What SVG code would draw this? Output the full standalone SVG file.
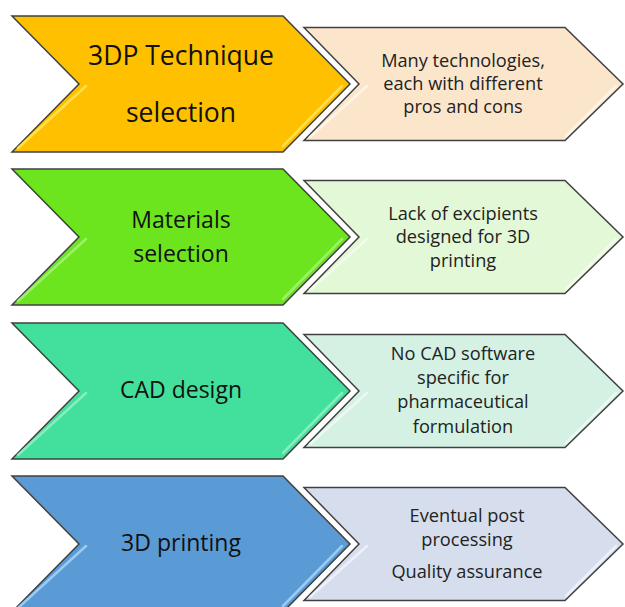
<svg xmlns="http://www.w3.org/2000/svg" width="625" height="607" viewBox="0 0 625 607">
<style>
.big{stroke:#404040;stroke-width:1.5;stroke-linejoin:miter}
.small{stroke:#404040;stroke-width:1.5;stroke-linejoin:miter}
.hl{fill:none;stroke-width:2.5;stroke-linecap:round;opacity:0.85}
.bt{font-family:"Open Sans","Liberation Sans",sans-serif;font-size:23px;font-weight:500;fill:#111;text-anchor:middle}
.bt1{font-size:26.5px}
.st{font-family:"Open Sans","Liberation Sans",sans-serif;font-size:18.2px;fill:#222;text-anchor:middle}
</style>
<defs>
<path id="bigShape" d="M12,-68 L283,-68 L350,0 L283,68 L12,68 L79,0 Z"/>
<path id="smallShape" d="M304,-56.5 L565,-56.5 L623,0 L565,56.5 L304,56.5 L359,0 Z"/>
</defs>
<rect width="625" height="607" fill="#fff"/>

<g id="row1-step" transform="translate(0,84)">
<use href="#bigShape" class="big" fill="#FFC000"/>
<path class="hl" stroke="#FFE45C" d="M86,2 L18,64 M342,2 L283,62"/>
<text class="bt bt1" x="181" y="-19">3DP Technique</text>
<text class="bt bt1" x="181" y="38">selection</text>
</g>
<g id="row1-note" transform="translate(0,84)">
<use href="#smallShape" class="small" fill="#FBE6CC"/>
<path class="hl" stroke="#FFF6EA" d="M367,2 L310,53 M616,2 L566,52"/>
<text class="st" x="463" y="-17">Many technologies,</text>
<text class="st" x="463" y="6">each with different</text>
<text class="st" x="463" y="29">pros and cons</text>
</g>

<g id="row2-step" transform="translate(0,237)">
<use href="#bigShape" class="big" fill="#6CE51F"/>
<path class="hl" stroke="#A6F27A" d="M86,2 L18,64 M342,2 L283,62"/>
<text class="bt" x="181" y="-9">Materials</text>
<text class="bt" x="181" y="25">selection</text>
</g>
<g id="row2-note" transform="translate(0,237)">
<use href="#smallShape" class="small" fill="#E2F8D6"/>
<path class="hl" stroke="#F4FDEE" d="M367,2 L310,53 M616,2 L566,52"/>
<text class="st" x="463" y="-17">Lack of excipients</text>
<text class="st" x="463" y="6">designed for 3D</text>
<text class="st" x="463" y="30">printing</text>
</g>

<g id="row3-step" transform="translate(0,391)">
<use href="#bigShape" class="big" fill="#42E09C"/>
<path class="hl" stroke="#8FF0C6" d="M86,2 L18,64 M342,2 L283,62"/>
<text class="bt" x="181" y="7">CAD design</text>
</g>
<g id="row3-note" transform="translate(0,391)">
<use href="#smallShape" class="small" fill="#D4F1E4"/>
<path class="hl" stroke="#EEFAF4" d="M367,2 L310,53 M616,2 L566,52"/>
<text class="st" x="463" y="-31">No CAD software</text>
<text class="st" x="463" y="-7">specific for</text>
<text class="st" x="463" y="17">pharmaceutical</text>
<text class="st" x="463" y="42">formulation</text>
</g>

<g id="row4-step" transform="translate(0,544)">
<use href="#bigShape" class="big" fill="#5B9BD5"/>
<path class="hl" stroke="#A8D3F5" d="M86,2 L18,64 M342,2 L283,62"/>
<text class="bt" x="181" y="7">3D printing</text>
</g>
<g id="row4-note" transform="translate(0,544)">
<use href="#smallShape" class="small" fill="#D6DEEE"/>
<path class="hl" stroke="#F0F3FA" d="M367,2 L310,53 M616,2 L566,52"/>
<text class="st" x="467" y="-22">Eventual post</text>
<text class="st" x="467" y="2">processing</text>
<text class="st" x="467" y="34">Quality assurance</text>
</g>

<g id="connectors"></g>
</svg>
